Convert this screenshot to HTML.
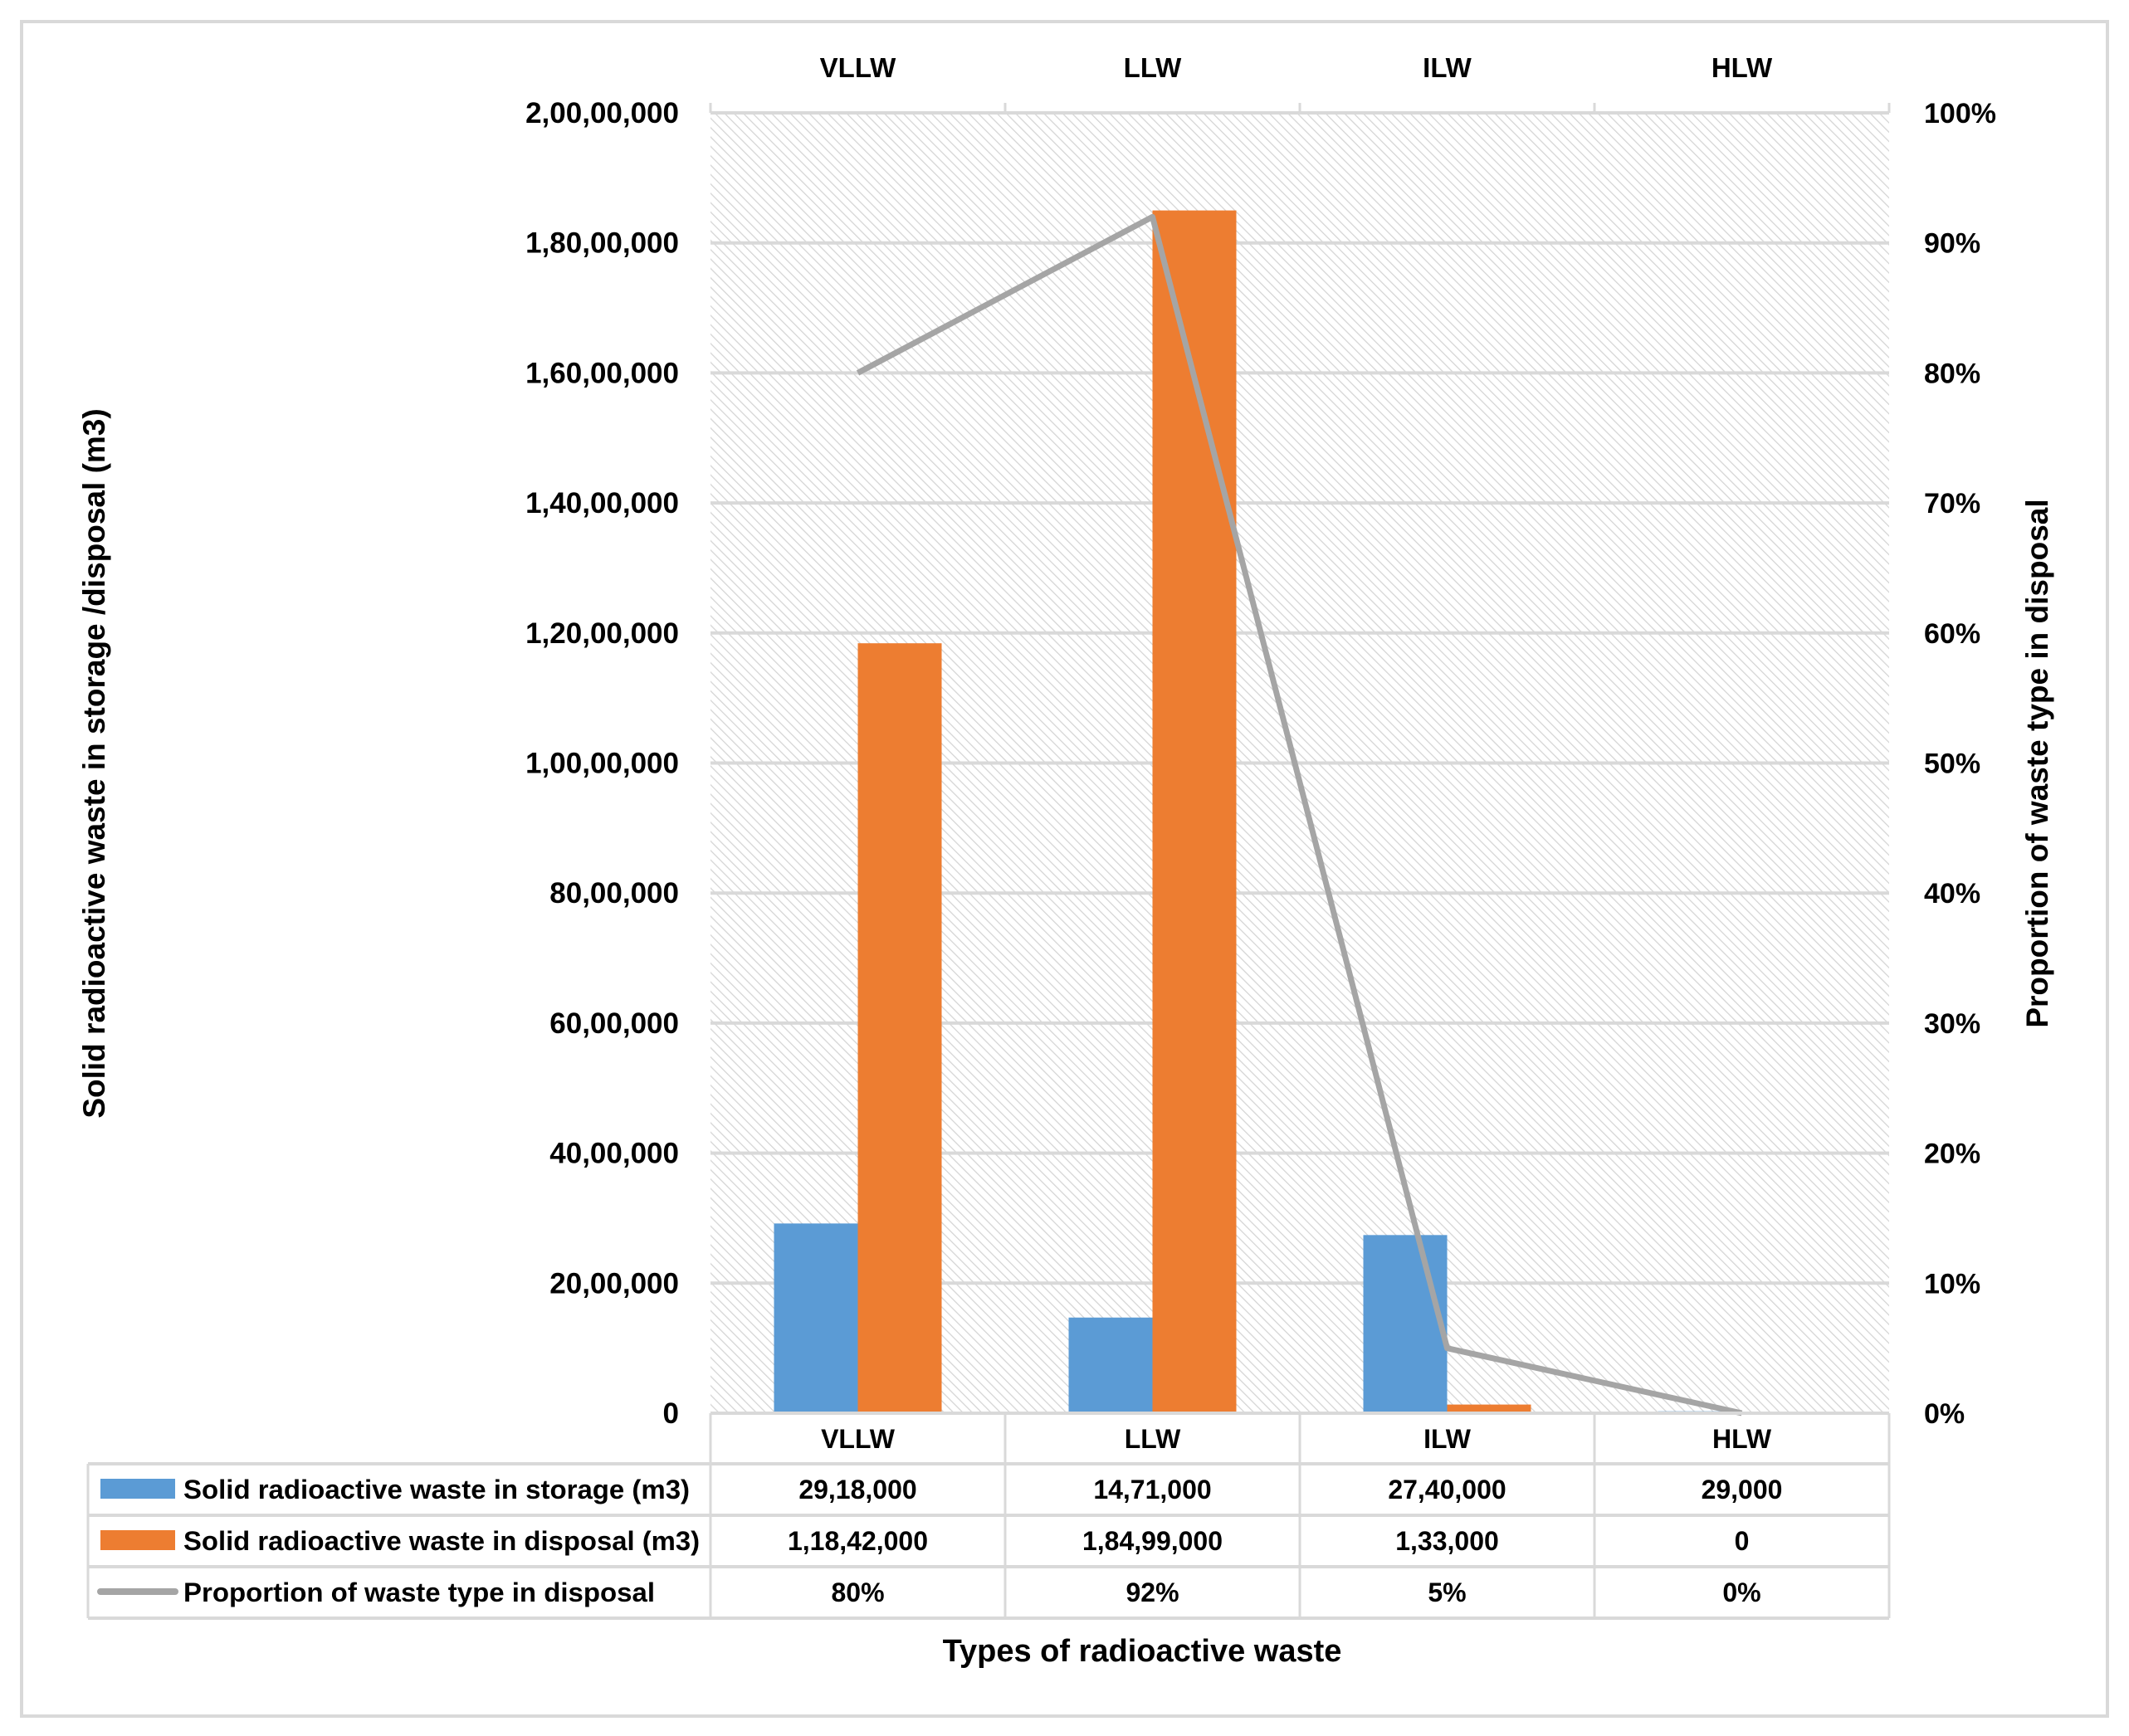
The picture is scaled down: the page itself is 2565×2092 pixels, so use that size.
<!DOCTYPE html>
<html><head><meta charset="utf-8"><style>
html,body{margin:0;padding:0;background:#fff;}
svg{display:block;font-family:"Liberation Sans",sans-serif;font-weight:bold;}
</style></head><body>
<svg id="chart" width="2565" height="2092" viewBox="0 0 2565 2092" xmlns="http://www.w3.org/2000/svg">
<defs>
<pattern id="hatch" width="8" height="8" patternUnits="userSpaceOnUse" patternTransform="rotate(-45)">
<rect width="8" height="8" fill="#fff"/>
<line x1="0" y1="0" x2="0" y2="8" stroke="#d4d4d4" stroke-width="2.5"/>
</pattern>
</defs>
<rect x="26" y="26" width="2513" height="2042" fill="#fff" stroke="#d9d9d9" stroke-width="4"/>
<g id="g"></g>
</svg>
<script>
const categories = ["VLLW","LLW","ILW","HLW"];
const storage = [2918000,1471000,2740000,29000];
const disposal = [11842000,18499000,133000,0];
const proportion = [80,92,5,0];
const storageLabels = ["29,18,000","14,71,000","27,40,000","29,000"];
const disposalLabels = ["1,18,42,000","1,84,99,000","1,33,000","0"];
const proportionLabels = ["80%","92%","5%","0%"];
const leftTicks = [0,2000000,4000000,6000000,8000000,10000000,12000000,14000000,16000000,18000000,20000000];
const leftTickLabels = ["0","20,00,000","40,00,000","60,00,000","80,00,000","1,00,00,000","1,20,00,000","1,40,00,000","1,60,00,000","1,80,00,000","2,00,00,000"];
const rightTicks = [0,10,20,30,40,50,60,70,80,90,100];

const NS="http://www.w3.org/2000/svg";
const g=document.getElementById('g');
const L=856,R=2276,T=136,B=1703;
const band=(R-L)/categories.length;
const yL=v=>B-(v/20000000)*(B-T);
const yR=v=>B-(v/100)*(B-T);
const xc=i=>L+band*(i+0.5);
function el(tag,attrs,text){const e=document.createElementNS(NS,tag);for(const k in attrs)e.setAttribute(k,attrs[k]);if(text!==undefined)e.textContent=text;g.appendChild(e);return e;}

let e=el('rect',{x:L,y:T,width:R-L,height:B-T,fill:'url(#hatch)'});



leftTicks.forEach((v,i)=>{
  const y=yL(v);
  if(i>0){let gl=el('line',{x1:L,x2:R,y1:y,y2:y,stroke:'#d9d9d9','stroke-width':4});
  
  }
  let t=el('text',{x:818,y:y+12,'text-anchor':'end','font-size':35,fill:'#000'},leftTickLabels[i]);
  
  
});
rightTicks.forEach((v)=>{
  let t=el('text',{x:2318,y:yR(v)+12,'font-size':34,fill:'#000'},v+'%');
  
  
});
for(let i=0;i<=categories.length;i++){
  let tk=el('line',{x1:L+band*i,x2:L+band*i,y1:T-12,y2:T,stroke:'#d9d9d9','stroke-width':3});
  
  
}
const bw=101;
categories.forEach((c,i)=>{
  let t=el('text',{x:xc(i),y:93,'text-anchor':'middle','font-size':33,fill:'#000'},c);
  
  
  let b1=el('rect',{x:xc(i)-bw,y:yL(storage[i]),width:bw,height:B-yL(storage[i]),fill:'#5b9bd5'});
  
  
  let b2=el('rect',{x:xc(i),y:yL(disposal[i]),width:bw,height:B-yL(disposal[i]),fill:'#ed7d31'});
  
  
});
let pl=el('polyline',{points:proportion.map((v,i)=>xc(i)+','+yR(v)).join(' '),fill:'none',stroke:'#a5a5a5','stroke-width':7,'stroke-linejoin':'round'});



const rows=[1703,1764,1826,1888,1950];
const TL=106;
const gridC='#d9d9d9';
function hl(x1,x2,y){let l=el('line',{x1:x1,x2:x2,y1:y,y2:y,stroke:gridC,'stroke-width':4});}
function vl(x,y1,y2){let l=el('line',{x1:x,x2:x,y1:y1,y2:y2,stroke:gridC,'stroke-width':3});}
hl(L,R,rows[0]);
for(let r=1;r<5;r++)hl(TL,R,rows[r]);
vl(TL,rows[1],rows[4]);
for(let i=0;i<=4;i++)vl(L+band*i,rows[0],rows[4]);
categories.forEach((c,i)=>{
  let t=el('text',{x:xc(i),y:1745,'text-anchor':'middle','font-size':32,fill:'#000'},c);
  
  
  [storageLabels,disposalLabels,proportionLabels].forEach((arr,r)=>{
    let v=el('text',{x:xc(i),y:rows[r+1]+42,'text-anchor':'middle','font-size':32,fill:'#000'},arr[i]);
    
    
  });
});
const legNames=["Solid radioactive waste in storage (m3)","Solid radioactive waste in disposal (m3)","Proportion of waste type in disposal"];
let s1=el('rect',{x:121,y:1782,width:90,height:24,fill:'#5b9bd5'});


let s2=el('rect',{x:121,y:1844,width:90,height:24,fill:'#ed7d31'});


let s3=el('line',{x1:121,x2:211,y1:1918,y2:1918,stroke:'#a5a5a5','stroke-width':8,'stroke-linecap':'round'});


legNames.forEach((n,r)=>{
  let t=el('text',{x:221,y:rows[r+1]+42,'font-size':32,fill:'#000',textLength:r==0?610:r==1?622:568,lengthAdjust:'spacingAndGlyphs'},n);
  
  
});
let xt=el('text',{x:1376,y:2002,'text-anchor':'middle','font-size':38,fill:'#000'},'Types of radioactive waste');


let yt=el('text',{x:0,y:0,'text-anchor':'middle','font-size':37,fill:'#000',transform:'translate(126,920) rotate(-90)'},'Solid radioactive waste in storage /disposal (m3)');


let y2=el('text',{x:0,y:0,'text-anchor':'middle','font-size':37,fill:'#000',transform:'translate(2467,920) rotate(-90)'},'Proportion of waste type in disposal');


</script>
</body></html>
